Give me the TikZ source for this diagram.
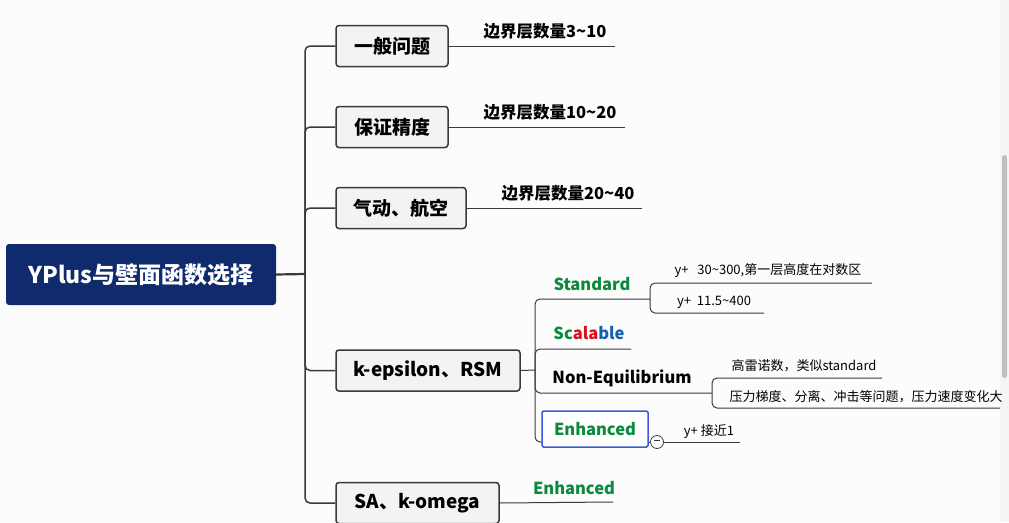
\documentclass[tikz,border=0pt]{standalone}
\usepackage{fontspec}
\setmainfont{Noto Sans CJK SC}
\usetikzlibrary{positioning}

\definecolor{navy}{HTML}{0F2B6E}
\definecolor{linegray}{HTML}{3A3A3A}
\definecolor{boxfill}{HTML}{F3F3F3}
\definecolor{sgreen}{HTML}{0B8A3C}
\definecolor{sred}{HTML}{D90F1A}
\definecolor{sblue}{HTML}{1560B0}
\definecolor{selblue}{HTML}{3B5BD6}

\begin{document}
\begin{tikzpicture}[x=1pt,y=-1pt,
root node/.style={fill=navy,rounded corners=3pt,minimum width=270pt,minimum height=61pt,
  text=white,font=\bfseries\fontsize{23}{25}\selectfont},
main node/.style={draw=linegray,fill=boxfill,rounded corners=3pt,line width=1.5pt,
  minimum height=41pt,font=\bfseries\fontsize{19}{21}\selectfont},
tag/.style={font=\bfseries\fontsize{16.5}{18}\selectfont},
note/.style={font=\fontsize{13}{15}\selectfont},
link/.style={draw=linegray,line width=1.5pt,rounded corners=5pt},
thin link/.style={draw=linegray,line width=1pt,rounded corners=5pt}]

\useasboundingbox (0,0) rectangle (1009,522);
\fill[white!98!gray] (0,0) rectangle (1009,522);
\fill[gray!8] (1000,0) rectangle (1009,522);
\fill[gray!50,rounded corners=2.5pt] (1002,155) rectangle (1007,378);

% main topic and first level
\node[root node] (root) at (141,274.5) {YPlus与壁面函数选择};
\node[main node,minimum width=112pt] (gen) at (392,46) {一般问题};
\node[main node,minimum width=112pt] (acc) at (392,127) {保证精度};
\node[main node,minimum width=130pt] (aero) at (401,208) {气动、航空};
\node[main node,minimum width=184pt] (keps) at (428,370.5) {k-epsilon、RSM};
\node[main node,minimum width=163pt] (sak) at (417.5,503) {SA、k-omega};

\coordinate (hub) at (305,274);
\draw[link,line width=2.2pt] (root.east) -- (hub);
\foreach \b in {gen,acc,aero,keps,sak}
  \draw[link] (hub) |- (\b.west);

% boundary layer counts
\node[tag] (gen t) at (545,31) {边界层数量3\textasciitilde10};
\node[tag] (acc t) at (550,112) {边界层数量10\textasciitilde20};
\node[tag] (aero t) at (568,193) {边界层数量20\textasciitilde40};
\coordinate (gen e) at (615,46);
\coordinate (acc e) at (625,127);
\coordinate (aero e) at (642,208);
\draw[thin link] (gen.east) -- (gen e);
\draw[thin link] (acc.east) -- (acc e);
\draw[thin link] (aero.east) -- (aero e);

% k-epsilon wall treatments
\coordinate (khub) at (535,370);
\draw[thin link] (keps.east) -- (khub);
\node[tag,text=sgreen] (std) at (592,284) {Standard};
\node[tag] (scl) at (589,333) {{\color{sgreen}Sc}{\color{sred}ala}{\color{sblue}ble}};
\node[tag] (neq) at (622,378) {Non-Equilibrium};
\coordinate (std e) at (650,299);
\coordinate (scl e) at (631,349);
\coordinate (neq e) at (712,393);
\coordinate (enh in) at (542,442);
\draw[thin link] (khub) |- (std e);
\draw[thin link] (khub) |- (scl e);
\draw[thin link] (khub) |- (neq e);
\draw[thin link] (khub) |- (enh in);
\node[tag,text=sgreen,draw=selblue,line width=1.5pt,rounded corners=1.5pt,fill=white,
  minimum width=106pt,minimum height=36pt] (enh) at (595,429) {Enhanced};

% Standard
\node[note] (s1) at (768,271) {y+\ \ \ 30\textasciitilde300,第一层高度在对数区};
\node[note] (s2) at (714,302) {y+\ \ 11.5\textasciitilde400};
\coordinate (s1 e) at (872,283);
\coordinate (s2 e) at (764,313);
\draw[thin link] (std e) |- (s1 e);
\draw[thin link] (std e) |- (s2 e);

% Non-Equilibrium
\node[note] (n1) at (804,366) {高雷诺数，类似standard};
\node[note] (n2) at (866,397) {压力梯度、分离、冲击等问题，压力速度变化大};
\coordinate (n1 e) at (882,378);
\coordinate (n2 e) at (1000,408);
\draw[thin link] (neq e) |- (n1 e);
\draw[thin link] (neq e) |- (n2 e);

% Enhanced
\node[circle,draw=linegray,line width=0.8pt,fill=white,inner sep=0pt,minimum size=13pt]
  (fold) at (657,442) {\color{linegray}\rule[2.6pt]{6pt}{0.8pt}};
\node[note] (yp) at (709,432) {y+ 接近1};
\coordinate (yp e) at (740,442);
\draw[thin link] (enh.east |- fold) -- (fold.west);
\draw[thin link] (fold.east) -- (yp e);

% SA, k-omega
\node[tag,text=sgreen] (sae) at (574,488) {Enhanced};
\coordinate (sae e) at (613,502);
\draw[thin link] (sak.east) -- (sae e);
\end{tikzpicture}
\end{document}
